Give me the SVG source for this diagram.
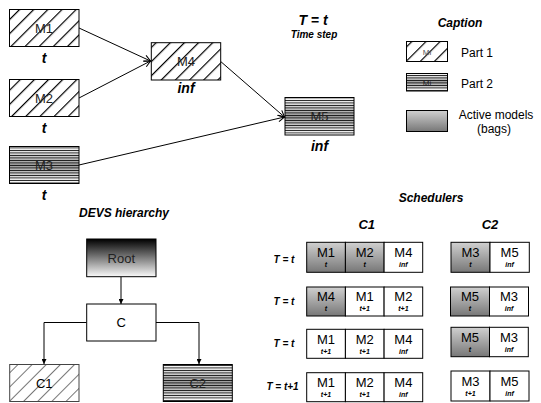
<svg xmlns="http://www.w3.org/2000/svg" width="541" height="403" viewBox="0 0 541 403">
<defs>
<pattern id="hatch" patternUnits="userSpaceOnUse" width="10" height="10" patternTransform="rotate(45)">
<rect width="10" height="10" fill="#fff"/>
<rect x="0" y="0" width="1.2" height="10" fill="#000"/>
</pattern>
<pattern id="hatchL" patternUnits="userSpaceOnUse" width="10" height="10" patternTransform="rotate(45)">
<rect width="10" height="10" fill="#fff"/>
<rect x="0" y="0" width="1" height="10" fill="#777"/>
</pattern>
<pattern id="stripe" patternUnits="userSpaceOnUse" width="10" height="2.5">
<rect y="0" width="10" height="0.75" fill="#000"/>
</pattern>
<linearGradient id="midgray" x1="0" y1="0" x2="0" y2="1">
<stop offset="0" stop-color="#fff"/>
<stop offset="0.5" stop-color="#999"/>
<stop offset="1" stop-color="#fff"/>
</linearGradient>
<linearGradient id="active" x1="0" y1="0" x2="0" y2="1">
<stop offset="0" stop-color="#d0d0d0"/>
<stop offset="1" stop-color="#777"/>
</linearGradient>
<linearGradient id="root" x1="0" y1="0" x2="0" y2="1">
<stop offset="0" stop-color="#000"/>
<stop offset="1" stop-color="#fafafa"/>
</linearGradient>
<marker id="open" viewBox="0 0 10 10" refX="9" refY="5" markerWidth="8" markerHeight="8" orient="auto" markerUnits="userSpaceOnUse">
<path d="M1,1 L9,5 L1,9" fill="none" stroke="#000" stroke-width="1.3"/>
</marker>
<marker id="fill" viewBox="0 0 10 10" refX="10" refY="5" markerWidth="5" markerHeight="5" orient="auto" markerUnits="userSpaceOnUse">
<path d="M0,0 L10,5 L0,10 z" fill="#000"/>
</marker>
</defs>
<style>
.box{stroke:#000;stroke-width:1}
.lbl{font-family:"Liberation Sans",Arial,sans-serif;font-size:13px;fill:#222;text-anchor:middle}
.bi{font-family:"Liberation Sans",Arial,sans-serif;font-weight:bold;font-style:italic;fill:#000;text-anchor:middle}
.txt{font-family:"Liberation Sans",Arial,sans-serif;font-size:13px;fill:#000}
.cell{fill:#fff;stroke:#000;stroke-width:1}
.act{fill:url(#active);stroke:#000;stroke-width:1}
.cm{font-family:"Liberation Sans",Arial,sans-serif;font-size:13px;fill:#000;text-anchor:middle}
.cs{font-family:"Liberation Sans",Arial,sans-serif;font-size:7px;font-weight:bold;font-style:italic;fill:#000;text-anchor:middle}
.conn{stroke:#000;stroke-width:1;fill:none}
</style>

<g id="connectors">
<line class="conn" x1="79" y1="28" x2="150.5" y2="61" marker-end="url(#open)"/>
<line class="conn" x1="79" y1="98" x2="150.5" y2="61" marker-end="url(#open)"/>
<line class="conn" x1="79" y1="165" x2="284.5" y2="117" marker-end="url(#open)"/>
<line class="conn" x1="220.7" y1="61.5" x2="284.5" y2="117" marker-end="url(#open)"/>
<line class="conn" x1="121" y1="277" x2="121" y2="304" marker-end="url(#fill)"/>
<polyline class="conn" points="86.7,322.5 44,322.5 44,364" marker-end="url(#fill)"/>
<polyline class="conn" points="156,322.5 199,322.5 199,364" marker-end="url(#fill)"/>
</g>

<g id="M1">
<rect class="box" x="9.5" y="9.5" width="69.5" height="37" fill="url(#hatch)"/>
<text class="lbl" x="44" y="33">M1</text>
<text class="bi" x="44" y="63" font-size="14">t</text>
</g>
<g id="M2">
<rect class="box" x="9.5" y="79.5" width="69.5" height="37" fill="url(#hatch)"/>
<text class="lbl" x="44" y="103">M2</text>
<text class="bi" x="44" y="133" font-size="14">t</text>
</g>
<g id="M3">
<rect x="9.5" y="146.5" width="69.5" height="37" fill="url(#midgray)"/>
<rect class="box" x="9.5" y="146.5" width="69.5" height="37" fill="url(#stripe)"/>
<text class="lbl" x="44" y="170">M3</text>
<text class="bi" x="44" y="200" font-size="14">t</text>
</g>
<g id="M4">
<rect class="box" x="151.3" y="42.7" width="69.4" height="37.3" fill="url(#hatch)"/>
<text class="lbl" x="186" y="66">M4</text>
<text class="bi" x="186" y="93" font-size="14">inf</text>
</g>
<g id="M5">
<rect x="285" y="97.5" width="69" height="37.5" fill="url(#midgray)"/>
<rect class="box" x="285" y="97.5" width="69" height="37.5" fill="url(#stripe)"/>
<text class="lbl" x="319.5" y="121">M5</text>
<text class="bi" x="319.5" y="151" font-size="14">inf</text>
</g>

<g id="timestep">
<text class="bi" x="313" y="25" font-size="14">T = t</text>
<text class="bi" x="314" y="38" font-size="10">Time step</text>
</g>

<g id="caption">
<text class="bi" x="460" y="27" font-size="12">Caption</text>
<rect class="box" x="406.5" y="41.5" width="41" height="20" fill="url(#hatch)"/>
<text class="lbl" x="427" y="55" style="font-size:8px;fill:#555">Mi</text>
<text class="txt" x="461" y="57" style="font-size:12px">Part 1</text>
<rect x="406.5" y="73.5" width="41" height="17.5" fill="url(#midgray)"/>
<rect class="box" x="406.5" y="73.5" width="41" height="17.5" fill="url(#stripe)"/>
<text class="lbl" x="427" y="85.5" style="font-size:8px">Mi</text>
<text class="txt" x="461" y="88" style="font-size:12px">Part 2</text>
<rect class="act" x="406.5" y="110.5" width="41" height="21"/>
<text class="txt" x="496" y="119" text-anchor="middle" style="font-size:12px">Active models</text>
<text class="txt" x="494" y="132.5" text-anchor="middle" style="font-size:12px">(bags)</text>
</g>

<text class="bi" x="124" y="217" font-size="12">DEVS hierarchy</text>
<g id="Root">
<rect class="box" x="86.7" y="239" width="69.3" height="37.7" fill="url(#root)"/>
<text class="cm" x="121.3" y="263" style="font-size:13px;fill:#222">Root</text>
</g>
<g id="C">
<rect class="box" x="86.7" y="304" width="69.3" height="37" fill="#fff"/>
<text class="cm" x="121.3" y="327">C</text>
</g>
<g id="C1">
<rect x="9.7" y="364.5" width="69.3" height="37" fill="url(#hatchL)" stroke="#444" stroke-width="1"/>
<text class="cm" x="44.3" y="388">C1</text>
</g>
<g id="C2">
<rect x="163.3" y="364.5" width="69" height="37" fill="url(#midgray)"/>
<rect x="163.3" y="364.5" width="69" height="37" fill="url(#stripe)" stroke="#000" stroke-width="1"/>
<text class="cm" x="197.8" y="388" style="fill:#222">C2</text>
</g>

<g id="schedulers">
<text class="bi" x="431" y="202" font-size="12">Schedulers</text>
<text class="bi" x="366.7" y="229" font-size="13">C1</text>
<text class="bi" x="490" y="229" font-size="13">C2</text>

<text class="bi" x="284" y="263" font-size="10">T = t</text>
<text class="bi" x="284" y="305" font-size="10">T = t</text>
<text class="bi" x="284" y="347" font-size="10">T = t</text>
<text class="bi" x="282.5" y="390" font-size="10">T = t+1</text>

<g id="r1c1">
<rect class="act" x="306.7" y="242.3" width="38.7" height="30"/>
<rect class="act" x="345.4" y="242.3" width="38.7" height="30"/>
<rect class="cell" x="384.1" y="242.3" width="38.6" height="30"/>
<text class="cm" x="326" y="257">M1</text><text class="cs" x="326" y="267">t</text>
<text class="cm" x="364.7" y="257">M2</text><text class="cs" x="364.7" y="267">t</text>
<text class="cm" x="403.4" y="257">M4</text><text class="cs" x="403.4" y="267">inf</text>
</g>
<g id="r1c2">
<rect class="act" x="451" y="242.3" width="39" height="30"/>
<rect class="cell" x="490" y="242.3" width="39.3" height="30"/>
<text class="cm" x="470.5" y="257">M3</text><text class="cs" x="470.5" y="267">t</text>
<text class="cm" x="509.6" y="257">M5</text><text class="cs" x="509.6" y="267">inf</text>
</g>
<g id="r2c1">
<rect class="act" x="306.7" y="287" width="38.7" height="29"/>
<rect class="cell" x="345.4" y="287" width="38.7" height="29"/>
<rect class="cell" x="384.1" y="287" width="38.6" height="29"/>
<text class="cm" x="326" y="301">M4</text><text class="cs" x="326" y="311">t</text>
<text class="cm" x="364.7" y="301">M1</text><text class="cs" x="364.7" y="311">t+1</text>
<text class="cm" x="403.4" y="301">M2</text><text class="cs" x="403.4" y="311">t+1</text>
</g>
<g id="r2c2">
<rect class="act" x="450.5" y="287" width="39" height="29"/>
<rect class="cell" x="489.5" y="287" width="39" height="29"/>
<text class="cm" x="470" y="301">M5</text><text class="cs" x="470" y="311">t</text>
<text class="cm" x="509" y="301">M3</text><text class="cs" x="509" y="311">inf</text>
</g>
<g id="r3c1">
<rect class="cell" x="306.7" y="329.3" width="38.7" height="29"/>
<rect class="cell" x="345.4" y="329.3" width="38.7" height="29"/>
<rect class="cell" x="384.1" y="329.3" width="38.6" height="29"/>
<text class="cm" x="326" y="344">M1</text><text class="cs" x="326" y="354">t+1</text>
<text class="cm" x="364.7" y="344">M2</text><text class="cs" x="364.7" y="354">t+1</text>
<text class="cm" x="403.4" y="344">M4</text><text class="cs" x="403.4" y="354">inf</text>
</g>
<g id="r3c2">
<rect class="act" x="451" y="327.3" width="38.5" height="29.4"/>
<rect class="cell" x="489.5" y="327.3" width="38.8" height="29.4"/>
<text class="cm" x="470" y="342">M5</text><text class="cs" x="470" y="352">t</text>
<text class="cm" x="509" y="342">M3</text><text class="cs" x="509" y="352">inf</text>
</g>
<g id="r4c1">
<rect class="cell" x="306.7" y="372.7" width="38.7" height="29"/>
<rect class="cell" x="345.4" y="372.7" width="38.7" height="29"/>
<rect class="cell" x="384.1" y="372.7" width="38.6" height="29"/>
<text class="cm" x="326" y="387">M1</text><text class="cs" x="326" y="397">t+1</text>
<text class="cm" x="364.7" y="387">M2</text><text class="cs" x="364.7" y="397">t+1</text>
<text class="cm" x="403.4" y="387">M4</text><text class="cs" x="403.4" y="397">inf</text>
</g>
<g id="r4c2">
<rect class="cell" x="451" y="371" width="39" height="30"/>
<rect class="cell" x="490" y="371" width="39" height="30"/>
<text class="cm" x="470.5" y="386">M3</text><text class="cs" x="470.5" y="396">t+1</text>
<text class="cm" x="509.5" y="386">M5</text><text class="cs" x="509.5" y="396">inf</text>
</g>
</g>
</svg>
